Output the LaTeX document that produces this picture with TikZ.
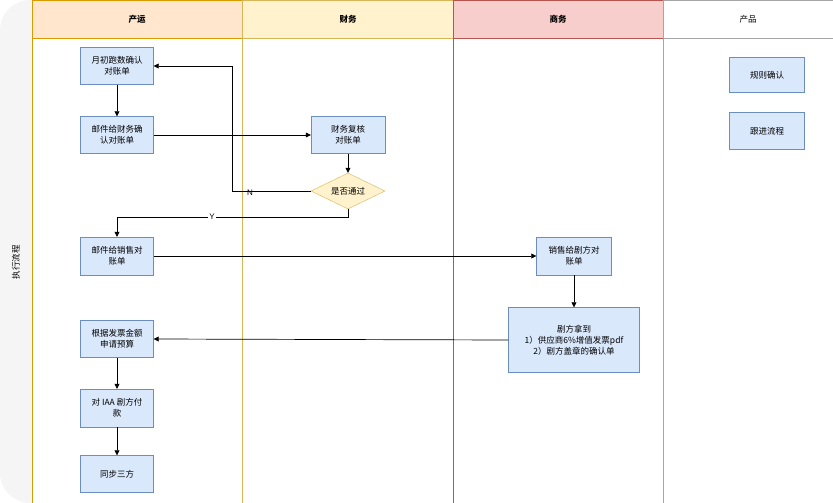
\documentclass[tikz,border=0pt]{standalone}
\usepackage{fontspec}
\setmainfont{Liberation Sans}
\newfontfamily\cjk{Noto Sans CJK SC}
\usetikzlibrary{shapes.geometric,arrows.meta}
\definecolor{boxf}{HTML}{DAE8FC}\definecolor{boxd}{HTML}{6C8EBF}
\definecolor{orf}{HTML}{FFE6CC}\definecolor{ord}{HTML}{D79B00}
\definecolor{yef}{HTML}{FFF2CC}\definecolor{yed}{HTML}{D6B656}
\definecolor{ref}{HTML}{F8CECC}\definecolor{red}{HTML}{B85450}
\begin{document}
\begin{tikzpicture}[x=1pt,y=-1pt,font=\cjk\fontsize{8.5}{11}\selectfont,
 box/.style={draw=boxd,fill=boxf,align=center,inner sep=1pt},
 arr/.style={-{Triangle[length=5pt,width=5pt]},line width=0.7pt},
 hd/.style={font=\cjk\bfseries\fontsize{8.5}{11}\selectfont}]
\useasboundingbox (0,0) rectangle (833,503);
\fill[gray!8,rounded corners=30pt] (0,0) rectangle (833,503);
\node[rotate=90] (lbl) at (16,262) {执行流程};
\fill[white] (32,38) rectangle (833,503);
% headers
\draw[ord,fill=orf] (32,0) rectangle (242,38); \node[hd] (h1) at (137,19) {产运};
\draw[yed,fill=yef] (242,0) rectangle (453,38); \node[hd] (h2) at (348,19) {财务};
\draw[red,fill=ref] (453,0) rectangle (663,38); \node[hd] (h3) at (558,19) {商务};
\draw[gray!70,fill=white] (663,0) rectangle (833,38); \node (h4) at (748,19) {产品};
\draw[ord] (32,38) -- (32,503); \draw[yed] (242,38) -- (242,503);
\draw[red] (453,38) -- (453,503); \draw[gray!70] (663,38) -- (663,503);
% nodes
\node[box,minimum width=73pt,minimum height=37pt] (a) at (117,66) {月初跑数确认\\对账单};
\node[box,minimum width=73pt,minimum height=37pt] (b) at (117,135) {邮件给财务确\\认对账单};
\node[box,minimum width=74pt,minimum height=37pt] (c) at (348,135) {财务复核\\对账单};
\node[diamond,aspect=2,draw=yed,fill=yef,inner sep=0pt,minimum width=74pt,minimum height=36pt] (d) at (348,191) {是否通过};
\node[box,minimum width=73pt,minimum height=38pt] (e) at (117,256) {邮件给销售对\\账单};
\node[box,minimum width=75pt,minimum height=38pt] (f) at (574,256) {销售给剧方对\\账单};
\node[box,minimum width=131pt,minimum height=65pt] (g) at (574,340) {剧方拿到\\1）供应商6\%增值发票pdf\\2）剧方盖章的确认单};
\node[box,minimum width=73pt,minimum height=37pt] (h) at (117,339) {根据发票金额\\申请预算};
\node[box,minimum width=73pt,minimum height=38pt] (i) at (117,408) {对 IAA 剧方付\\款};
\node[box,minimum width=73pt,minimum height=37pt] (j) at (117,474) {同步三方};
\node[box,minimum width=75pt,minimum height=35pt] (k) at (767,75) {规则确认};
\node[box,minimum width=75pt,minimum height=37pt] (l) at (767,131) {跟进流程};
% edges
\draw[arr] (a) -- (b);
\draw[arr] (b) -- (c);
\draw[arr] (c) -- (d);
\draw[arr] (d.west) -- (232,191) -- (232,66) -- (a.east);
\node[font=\fontsize{8}{9}\selectfont] (nl) at (250,193) {N};
\draw[arr] (d.south) -- (348,217) -- (117,217) -- (e.north);
\node[font=\fontsize{8}{9}\selectfont,fill=white,inner sep=1pt] (yl) at (212,217) {Y};
\draw[arr] (e) -- (f);
\draw[arr] (f) -- (g);
\draw[arr] (g.west) -- (h.east);
\draw[arr] (h) -- (i);
\draw[arr] (i) -- (j);
\end{tikzpicture}
\end{document}
